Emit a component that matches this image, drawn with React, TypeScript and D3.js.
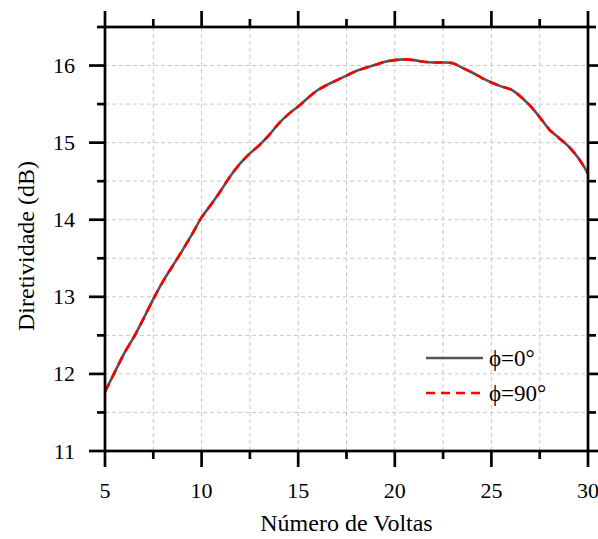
import React from "react";
import * as d3 from "d3";

const turns = [5, 5.5, 6, 6.5, 7, 7.5, 8, 8.5, 9, 9.5, 10, 10.5, 11, 11.5, 12, 12.5, 13, 13.5, 14, 14.5, 15, 15.5, 16, 16.5, 17, 17.5, 18, 18.5, 19, 19.5, 20, 20.5, 21, 21.5, 22, 22.5, 23, 23.5, 24, 24.5, 25, 25.5, 26, 26.5, 27, 27.5, 28, 28.5, 29, 29.5, 30];
const phi0 = [11.77, 12.02, 12.27, 12.48, 12.72, 12.97, 13.2, 13.4, 13.6, 13.81, 14.03, 14.2, 14.38, 14.57, 14.73, 14.86, 14.97, 15.1, 15.25, 15.37, 15.47, 15.58, 15.68, 15.75, 15.81, 15.87, 15.93, 15.97, 16.01, 16.05, 16.07, 16.08, 16.07, 16.05, 16.04, 16.04, 16.03, 15.97, 15.91, 15.84, 15.78, 15.73, 15.69, 15.6, 15.48, 15.33, 15.17, 15.06, 14.95, 14.8, 14.6];
const phi90 = [11.77, 12.02, 12.27, 12.48, 12.72, 12.97, 13.2, 13.4, 13.6, 13.81, 14.03, 14.2, 14.38, 14.57, 14.73, 14.86, 14.97, 15.1, 15.25, 15.37, 15.47, 15.58, 15.68, 15.75, 15.81, 15.87, 15.93, 15.97, 16.01, 16.05, 16.07, 16.08, 16.07, 16.05, 16.04, 16.04, 16.03, 15.97, 15.91, 15.84, 15.78, 15.73, 15.69, 15.6, 15.48, 15.33, 15.17, 15.06, 14.95, 14.8, 14.6];
const xMajor = [5, 10, 15, 20, 25, 30];
const xMinor = [7.5, 12.5, 17.5, 22.5, 27.5];
const yMajor = [11, 12, 13, 14, 15, 16];
const yMinor = [11.5, 12.5, 13.5, 14.5, 15.5, 16.5];
const seriesNames = ["ϕ=0°", "ϕ=90°"];

export default function App() {
  const W = 598, H = 539;
  const L = 105, R = 588, T = 27, B = 451;
  const x = d3.scaleLinear().domain([5, 30]).range([L, R]);
  const y = d3.scaleLinear().domain([11, 16.5]).range([B, T]);
  const line = d3.line<number>()
    .x((_, i) => x(turns[i]))
    .y((d) => y(d))
    .curve(d3.curveCatmullRom.alpha(0.5));
  const font = "Liberation Serif";
  const axisW = 2.7;
  const majorLen = 16, minorLen = 8;
  const gridX = [...xMajor, ...xMinor].filter((v) => v > 5 && v < 30);
  const gridY = [...yMajor, ...yMinor].filter((v) => v > 11 && v < 16.5);
  return (
    <svg width={W} height={H} style={{ position: "absolute", left: 0, top: 0 }}>
      <rect width={W} height={H} fill="#fff" />
      <defs>
        <clipPath id="plot">
          <rect x={L} y={T} width={R - L} height={B - T} />
        </clipPath>
      </defs>
      {gridX.map((v) => (
        <line key={"gx" + v} x1={x(v)} x2={x(v)} y1={T} y2={B} stroke="#c8c8c8" strokeWidth={1} strokeDasharray="4,3" />
      ))}
      {gridY.map((v) => (
        <line key={"gy" + v} x1={L} x2={R} y1={y(v)} y2={y(v)} stroke="#c8c8c8" strokeWidth={1} strokeDasharray="4,3" />
      ))}
      <g clipPath="url(#plot)">
        <path d={line(phi0) || ""} fill="none" stroke="#555" strokeWidth={2.6} />
        <path d={line(phi90) || ""} fill="none" stroke="#ff0000" strokeWidth={2.6} strokeDasharray="9,6" />
      </g>
      <rect x={L} y={T} width={R - L} height={B - T} fill="none" stroke="#000" strokeWidth={axisW} />
      {xMajor.map((v) => (
        <g key={"xt" + v}>
          <line x1={x(v)} x2={x(v)} y1={B} y2={B + majorLen} stroke="#000" strokeWidth={axisW} />
          <line x1={x(v)} x2={x(v)} y1={T} y2={T - majorLen} stroke="#000" strokeWidth={axisW} />
          <text x={x(v)} y={B + 47} textAnchor="middle" style={{ fontFamily: font }} fontSize={22} fill="#000">{v}</text>
        </g>
      ))}
      {xMinor.map((v) => (
        <g key={"xm" + v}>
          <line x1={x(v)} x2={x(v)} y1={B} y2={B + minorLen} stroke="#000" strokeWidth={axisW} />
          <line x1={x(v)} x2={x(v)} y1={T} y2={T - minorLen} stroke="#000" strokeWidth={axisW} />
        </g>
      ))}
      {yMajor.map((v) => (
        <g key={"yt" + v}>
          <line x1={L} x2={L - majorLen} y1={y(v)} y2={y(v)} stroke="#000" strokeWidth={axisW} />
          <line x1={R} x2={R + majorLen} y1={y(v)} y2={y(v)} stroke="#000" strokeWidth={axisW} />
          <text x={L - 30} y={y(v) + 7.5} textAnchor="end" style={{ fontFamily: font }} fontSize={22} fill="#000">{v}</text>
        </g>
      ))}
      {yMinor.map((v) => (
        <g key={"ym" + v}>
          <line x1={L} x2={L - minorLen} y1={y(v)} y2={y(v)} stroke="#000" strokeWidth={axisW} />
          <line x1={R} x2={R + minorLen} y1={y(v)} y2={y(v)} stroke="#000" strokeWidth={axisW} />
        </g>
      ))}
      <text x={(L + R) / 2} y={531} textAnchor="middle" style={{ fontFamily: font }} fontSize={24} fill="#000">Número de Voltas</text>
      <text transform={`translate(34, 246) rotate(-90)`} textAnchor="middle" style={{ fontFamily: font }} fontSize={24} fill="#000">Diretividade (dB)</text>
      <line x1={426} x2={483} y1={358} y2={358} stroke="#555" strokeWidth={2.6} />
      <text x={489} y={366} style={{ fontFamily: font }} fontSize={23} fill="#000">{seriesNames[0]}</text>
      <line x1={426} x2={483} y1={393} y2={393} stroke="#ff0000" strokeWidth={2.6} strokeDasharray="9,6" />
      <text x={489} y={401} style={{ fontFamily: font }} fontSize={23} fill="#000">{seriesNames[1]}</text>
    </svg>
  );
}
